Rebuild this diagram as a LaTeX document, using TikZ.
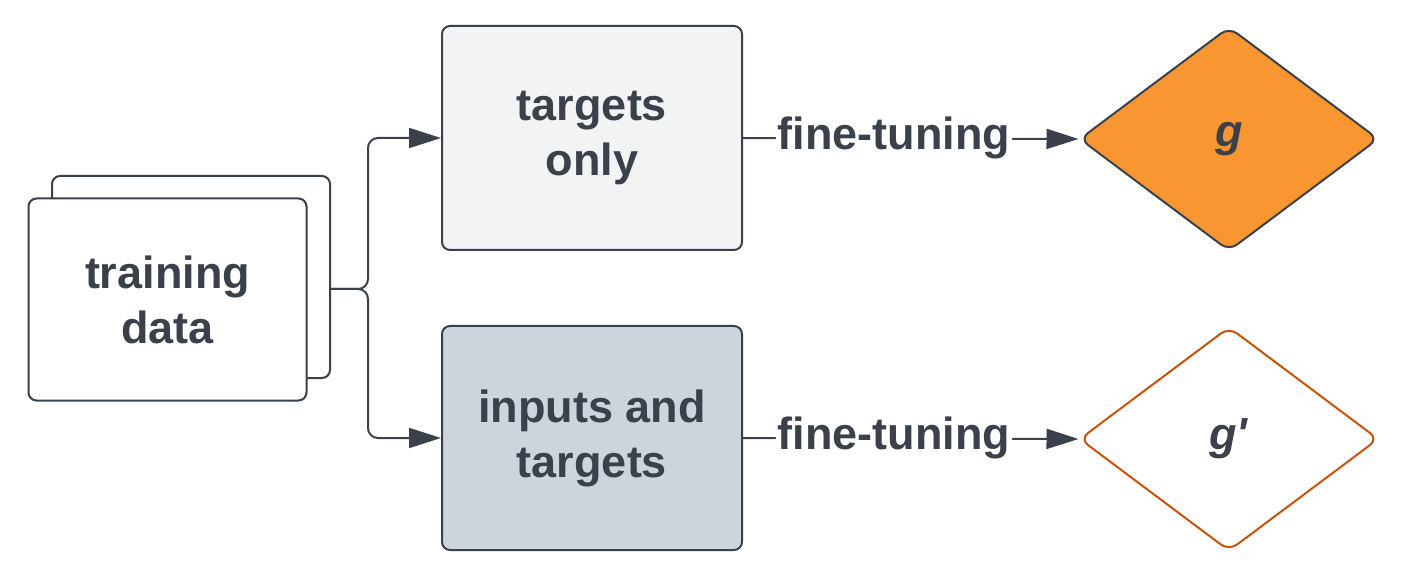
\documentclass[tikz,border=0pt]{standalone}
\usepackage{fontspec}
\setmainfont{Liberation Sans}
\usepackage{xcolor}
\usepackage{tikz}
\usetikzlibrary{shapes.geometric,arrows.meta}

\definecolor{ink}{HTML}{3A414A}
\definecolor{paleg}{HTML}{F2F3F5}
\definecolor{slateg}{HTML}{CED4DC}
\definecolor{orfill}{HTML}{FA9632}
\definecolor{oredge}{HTML}{C9520A}

\begin{document}
\begin{tikzpicture}[
			x=0.5pt, y=-0.5pt,
			% Define the style for the nodes
			every node/.style={text=ink, font=\bfseries\fontsize{22.5}{27.5}\selectfont, align=center},
			card/.style={rectangle, draw=ink, line width=1pt, fill=white, rounded corners=4pt, minimum width=139pt, minimum height=101pt},
			databox/.style={rectangle, draw=ink, line width=1pt, rounded corners=4pt, minimum width=150pt, minimum height=112pt},
			model/.style={diamond, draw=ink, line width=1pt, rounded corners=5pt, inner sep=0pt, minimum width=149.5pt, minimum height=112pt},
			link/.style={ink, line width=1pt, rounded corners=5pt, -{Triangle[length=16pt,width=10pt]}}
			]
			
			\useasboundingbox (0,0) rectangle (1414,572);
			
			\node (back) at (191, 277) [card] {};
			\node (data) at (167.5, 299.5) [card] {training\\data};
			\coordinate (src) at (330, 289);
			\coordinate (split) at (368, 289);
			
			\node (tonly) at (592, 138) [databox, fill=paleg] {targets\\only};
			\node (inout) at (592, 438) [databox, fill=slateg] {inputs and\\targets};
			
			\node (g) at (1229, 139) [model, fill=orfill] {\textit{g}};
			\node (gp) at (1229, 439) [model, draw=oredge, fill=white] {\textit{g\textquotesingle}};
			
			\draw[link] (src) -- (split) |- (tonly.west);
			\draw[link] (src) -- (split) |- (inout.west);
			
			\draw[link] (tonly.east) -- node[pos=0.45, fill=white, inner sep=1pt] {fine-tuning} (g.west);
			\draw[link] (inout.east) -- node[pos=0.45, fill=white, inner sep=1pt] {fine-tuning} (gp.west);
			
		\end{tikzpicture}
\end{document}
